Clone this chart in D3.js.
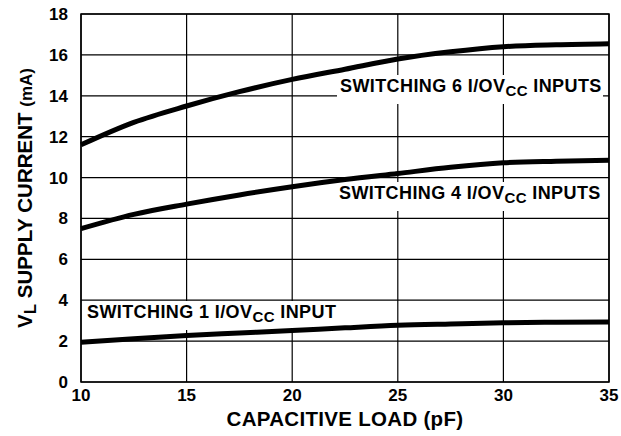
<!DOCTYPE html>
<html>
<head>
<meta charset="utf-8">
<script src="https://cdn.jsdelivr.net/npm/d3@7"></script>
<style>
  body { margin: 0; background: #fff; }
  text { font-family: "Liberation Sans", Arial, sans-serif; font-weight: bold; fill: #000; }
</style>
</head>
<body>
<div id="chart"></div>
<script>
// capacitive load (pF) vs VL supply current (mA)
const loads    = [10, 12.5, 15, 17.5, 20, 22.5, 25, 27.5, 30, 32.5, 35]
const switch6  = [11.6, 12.7, 13.5, 14.2, 14.8, 15.3, 15.8, 16.15, 16.4, 16.5, 16.55]
const switch4  = [7.5, 8.2, 8.7, 9.15, 9.55, 9.9, 10.2, 10.5, 10.72, 10.8, 10.85]
const switch1  = [1.94, 2.12, 2.28, 2.4, 2.52, 2.65, 2.77, 2.84, 2.9, 2.92, 2.93]
const xTicks   = [10, 15, 20, 25, 30, 35]
const yTicks   = [0, 2, 4, 6, 8, 10, 12, 14, 16, 18]

const W = 621, H = 436
const m = { top: 14, right: 12, bottom: 54, left: 81 }
const w = W - m.left - m.right
const h = H - m.top - m.bottom

const svg = d3.select("#chart").append("svg")
  .attr("width", W).attr("height", H)

const g = svg.append("g").attr("transform", `translate(${m.left},${m.top})`)

const x = d3.scaleLinear().domain([10, 35]).range([0, w])
const y = d3.scaleLinear().domain([0, 18]).range([h, 0])

// grid
g.selectAll(".vgrid").data(xTicks).join("line")
  .attr("x1", d => x(d)).attr("x2", d => x(d)).attr("y1", 0).attr("y2", h)
  .attr("stroke", "#000").attr("stroke-width", 1.2)
g.selectAll(".hgrid").data(yTicks).join("line")
  .attr("x1", 0).attr("x2", w).attr("y1", d => y(d)).attr("y2", d => y(d))
  .attr("stroke", "#000").attr("stroke-width", 1.2)

// tick labels
g.selectAll(".xt").data(xTicks).join("text")
  .attr("x", d => x(d)).attr("y", h + 19)
  .attr("text-anchor", "middle").style("font-size", "17px")
  .text(d => d)
g.selectAll(".yt").data(yTicks).join("text")
  .attr("x", -13).attr("y", d => y(d) + 6)
  .attr("text-anchor", "end").style("font-size", "17px")
  .text(d => d)

// curve labels, white box hides the grid behind the text
function label(xPos, yBase, num, plural, boxW) {
  g.append("rect")
    .attr("x", xPos - 3).attr("y", yBase - 17)
    .attr("width", boxW).attr("height", 29)
    .attr("fill", "#fff")
  const t = g.append("text").attr("x", xPos).attr("y", yBase)
    .style("font-size", "18px").style("letter-spacing", "0.4px")
  t.append("tspan").text(`SWITCHING ${num} I/OV`)
  t.append("tspan").attr("dy", 4).style("font-size", "15px").text("CC")
  t.append("tspan").attr("dy", -4).text(plural ? " INPUTS" : " INPUT")
}

label(x(10) + 259, 92 - m.top, "6", true, 266)
label(x(10) + 258, 199 - m.top, "4", true, 264)
label(x(10) + 6, 318 - m.top, "1", false, 256)

// curves
const line = d3.line().x((d, i) => x(loads[i])).y(d => y(d)).curve(d3.curveMonotoneX)
;[switch6, switch4, switch1].forEach(s => {
  g.append("path").datum(s)
    .attr("d", line)
    .attr("fill", "none").attr("stroke", "#000").attr("stroke-width", 5)
})

// frame
g.append("rect").attr("width", w).attr("height", h)
  .attr("fill", "none").attr("stroke", "#000").attr("stroke-width", 1.5)

// axis titles
svg.append("text")
  .attr("x", m.left + w / 2).attr("y", 426)
  .attr("text-anchor", "middle").style("font-size", "20.5px").style("letter-spacing", "0.3px")
  .text("CAPACITIVE LOAD (pF)")

const yt = svg.append("text")
  .attr("transform", `translate(32,${m.top + h / 2}) rotate(-90)`)
  .attr("text-anchor", "middle").style("font-size", "20.5px")
yt.append("tspan").text("V")
yt.append("tspan").attr("dy", 4).style("font-size", "17px").text("L")
yt.append("tspan").attr("dy", -4).text(" SUPPLY CURRENT ")
yt.append("tspan").style("font-size", "17px").text("(mA)")
</script>
</body>
</html>
